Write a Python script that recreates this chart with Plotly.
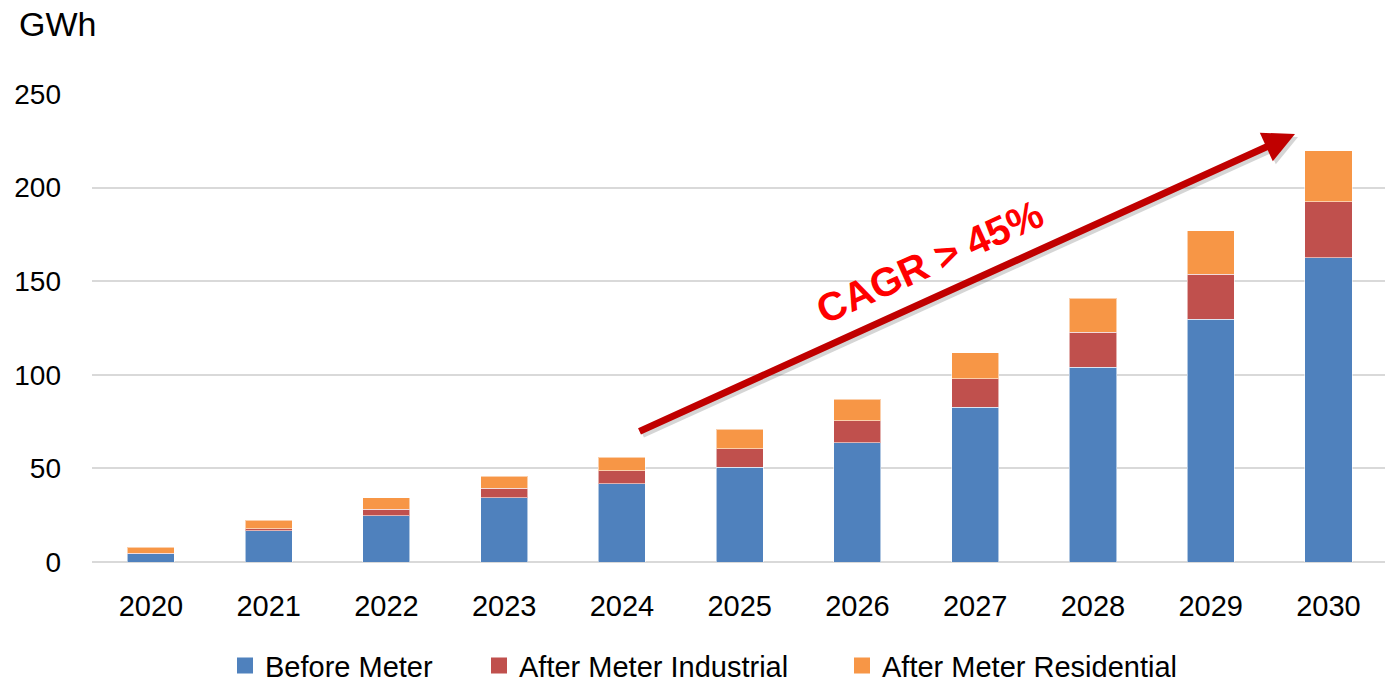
import plotly.graph_objects as go

years = ["2020", "2021", "2022", "2023", "2024", "2025", "2026", "2027", "2028", "2029", "2030"]
before_meter = [4.5, 16.7, 24.7, 34.4, 41.8, 50.6, 63.7, 82.6, 104.0, 129.6, 162.6]
after_meter_industrial = [0.3, 1.1, 3.5, 5.0, 7.0, 9.8, 11.8, 15.2, 18.7, 24.2, 29.9]
after_meter_residential = [3.0, 4.6, 6.2, 6.4, 7.1, 10.5, 11.4, 14.0, 18.2, 23.2, 27.1]
y_ticks = [0, 50, 100, 150, 200, 250]

series = [
    ("Before Meter", before_meter, "#4F81BD"),
    ("After Meter Industrial", after_meter_industrial, "#C0504D"),
    ("After Meter Residential", after_meter_residential, "#F79646"),
]

FONT = "Liberation Sans, Arial, sans-serif"
W, H = 1385, 687
L, R, T, B = 92, 0, 94, 125

legend_ids = ["legend", "legend2", "legend3"]
legend_x_px = [225, 479, 842]

fig = go.Figure()
for (name, vals, col), lid in zip(series, legend_ids):
    fig.add_trace(go.Bar(
        x=years, y=vals, name=name, showlegend=False,
        marker=dict(color=col, line=dict(color="rgba(255,255,255,0.55)", width=1)),
    ))
    # legend-only entry with a larger square swatch
    fig.add_trace(go.Scatter(
        x=[None], y=[None], mode="markers", name=name, legend=lid,
        marker=dict(symbol="square", size=16, color=col),
    ))

legend_common = dict(
    orientation="h", xref="container", yref="container",
    xanchor="left", y=0.031, yanchor="middle",
    font=dict(size=29, family=FONT), itemsizing="trace",
    bgcolor="rgba(0,0,0,0)", borderwidth=0,
)

fig.update_layout(
    width=W, height=H,
    barmode="stack", bargap=0.6,
    plot_bgcolor="white", paper_bgcolor="white",
    margin=dict(l=L, r=R, t=T, b=B, pad=0),
    font=dict(family=FONT, size=28, color="black"),
    showlegend=True,
    legend=dict(x=legend_x_px[0] / W, **legend_common),
    legend2=dict(x=legend_x_px[1] / W, **legend_common),
    legend3=dict(x=legend_x_px[2] / W, **legend_common),
)

fig.update_xaxes(
    type="category", range=[-0.5, 10.48],
    showgrid=False, showline=False, zeroline=False,
    ticks="", ticklabelstandoff=24,
    tickfont=dict(size=29, family=FONT),
)
fig.update_yaxes(
    range=[0, 250], tickvals=y_ticks,
    showgrid=True, gridcolor="#D9D9D9", gridwidth=1.5,
    zeroline=True, zerolinecolor="#D9D9D9", zerolinewidth=1.5,
    showline=False, ticks="", ticklabelstandoff=30,
    tickfont=dict(size=28, family=FONT),
)

# Axis unit label
fig.add_annotation(
    xref="paper", yref="paper", x=(17 - L) / (W - L - R), y=1.0 + 70 / (H - T - B),
    text="GWh", showarrow=False, xanchor="left", yanchor="middle",
    font=dict(size=34, family=FONT, color="black"),
)

def px(xp):
    return (xp - L) / (W - L - R)

def py(yp):
    return (H - B - yp) / (H - T - B)

tail = (638, 432)
head = (1295, 134)
for dx, dy, col in [(3, 3, "rgba(0,0,0,0.16)"), (0, 0, "#C00000")]:
    fig.add_annotation(
        xref="paper", yref="paper", axref="pixel", ayref="pixel",
        x=px(head[0] + dx), y=py(head[1] + dy),
        ax=tail[0] - head[0], ay=tail[1] - head[1],
        text="", showarrow=True, arrowhead=2, arrowsize=0.9, arrowwidth=7,
        arrowcolor=col,
    )

fig.add_annotation(
    xref="paper", yref="paper", x=px(929), y=py(262),
    text="<b>CAGR &gt; 45%</b>", showarrow=False, textangle=-24.4,
    xanchor="center", yanchor="middle",
    font=dict(size=40, family=FONT, color="#FF0000"),
)

fig.write_html(
    "out.html",
    config={"displayModeBar": False},
    post_script="document.body.style.margin='0';",
)
